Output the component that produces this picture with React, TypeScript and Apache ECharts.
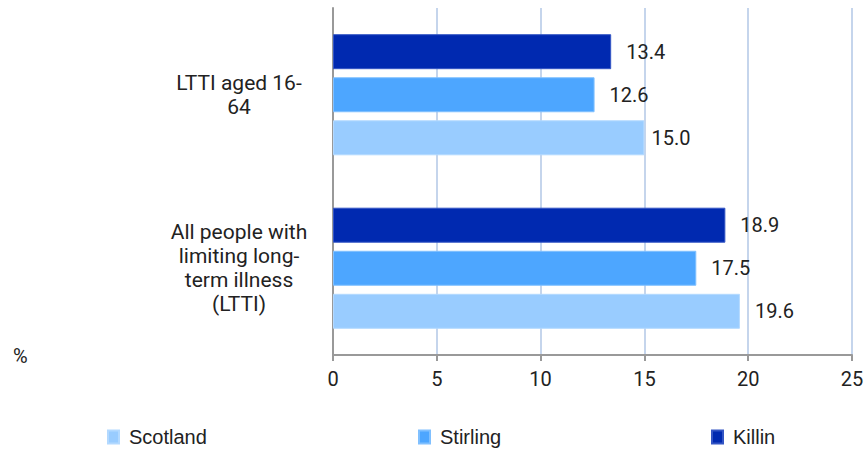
import React, { useEffect, useRef } from "react";
import * as echarts from "echarts";

// Categories, bottom-to-top as ECharts lays out a category y axis
const categories = [
  "All people with\nlimiting long-\nterm illness\n(LTTI)",
  "LTTI aged 16-\n64",
];

// Legend order (left to right)
const legendNames = ["Scotland", "Stirling", "Killin"];
const scotland = [19.6, 15.0];
const stirling = [17.5, 12.6];
const killin = [18.9, 13.4];

const xTicks = { min: 0, max: 25, interval: 5 };

const colorOf: Record<string, string> = {
  Scotland: "#99CCFF",
  Stirling: "#4DA6FF",
  Killin: "#0029B0",
};
const borderOf: Record<string, string> = {
  Scotland: "#B3D9FF",
  Stirling: "#80C0FF",
  Killin: "#3355C4",
};

const FONT = "Roboto, 'Liberation Sans', Arial, sans-serif";
const LEGEND_FONT = "'Liberation Sans', Arial, sans-serif";

export default function App() {
  const ref = useRef<HTMLDivElement>(null);

  useEffect(() => {
    if (!ref.current) return;
    const chart = echarts.init(ref.current, undefined, { renderer: "svg" });

    // Series are stacked top-down within each group: Killin, Stirling, Scotland
    const ordered: [string, number[]][] = [
      ["Killin", killin],
      ["Stirling", stirling],
      ["Scotland", scotland],
    ];

    const series = ordered.map(([name, vals]) => ({
      name,
      type: "bar",
      barWidth: 35,
      barGap: "23%",
      itemStyle: { color: colorOf[name], borderColor: borderOf[name], borderWidth: 1 },
      label: {
        show: true,
        position: "right",
        distance: 15,
        formatter: (p: any) => Number(p.value).toFixed(1),
        color: "#222",
        fontFamily: FONT,
        fontSize: 20,
      },
      data: vals.map((v) => (v === 15.0 ? { value: v, label: { distance: 7 } } : v)),
    }));

    const legendLefts = [102, 413, 706];
    const legend = legendNames.map((name, i) => ({
      data: [name],
      left: legendLefts[i],
      top: 422,
      icon: "rect",
      itemWidth: 11,
      itemHeight: 13,
      textStyle: {
        color: "#222",
        fontFamily: LEGEND_FONT,
        fontSize: 20,
        padding: [0, 0, 0, 5],
      },
      selectedMode: false,
    }));

    chart.setOption({
      animation: false,
      backgroundColor: "#fff",
      grid: { left: 333, right: 15, top: 8, bottom: 95, containLabel: false },
      legend,
      xAxis: {
        type: "value",
        min: xTicks.min,
        max: xTicks.max,
        interval: xTicks.interval,
        axisLine: { show: true, lineStyle: { color: "#999", width: 2 } },
        axisTick: { show: true, length: 6, lineStyle: { color: "#999", width: 2 } },
        axisLabel: { color: "#222", fontFamily: FONT, fontSize: 20, margin: 14 },
        splitLine: { show: true, lineStyle: { color: "#C5D5EC", width: 2 } },
      },
      yAxis: {
        type: "category",
        data: categories,
        axisLine: { show: true, lineStyle: { color: "#999", width: 2 } },
        axisTick: { show: false },
        axisLabel: {
          color: "#222",
          fontFamily: FONT,
          fontSize: 21,
          lineHeight: 24,
          align: "center",
          margin: 94,
        },
        splitLine: { show: false },
      },
      graphic: [
        {
          type: "text",
          left: 13,
          top: 346,
          style: { text: "%", fill: "#222", font: `20px ${FONT}` },
        },
      ],
      series,
    });

    return () => chart.dispose();
  }, []);

  return <div ref={ref} style={{ width: 867, height: 450, position: "absolute", left: 0, top: 0 }} />;
}
